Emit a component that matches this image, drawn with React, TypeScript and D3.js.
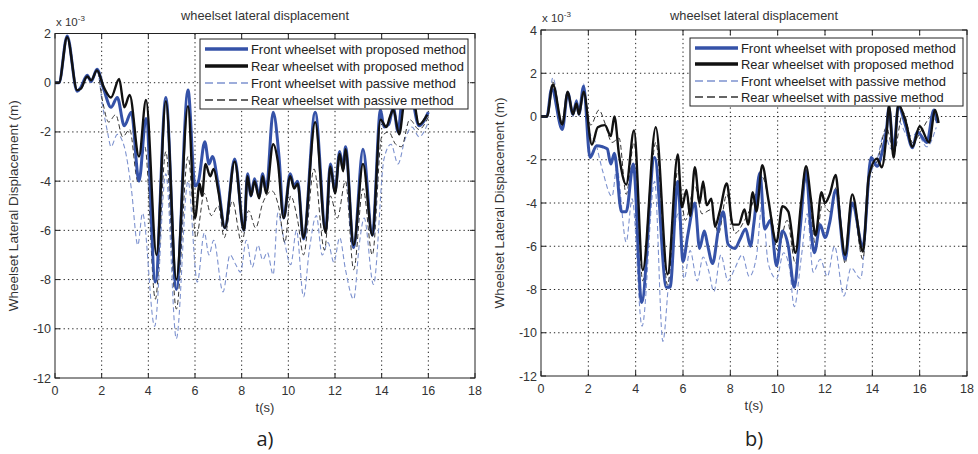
import React, { useEffect, useRef } from 'react';
import * as d3 from 'd3';

// ---- panel a) ----
const aFrontPropT = [0, 0.17, 0.52, 0.95, 1.1, 1.38, 1.55, 1.8, 2.1, 2.4, 2.67, 2.97, 3.27, 3.6, 3.9, 4.3, 4.75, 5.2, 5.7, 6.0, 6.15, 6.42, 6.6, 6.75, 7.0, 7.28, 7.7, 8.1, 8.25, 8.4, 8.55, 8.75, 8.9, 9.05, 9.35, 9.6, 9.8, 10.08, 10.25, 10.4, 10.65, 11.15, 11.6, 11.8, 12.0, 12.2, 12.35, 12.45, 12.8, 13.2, 13.6, 13.95, 14.1, 14.3, 14.5, 14.7, 14.9, 15.2, 15.6, 16.0];
const aFrontPropV = [0, 0, 1.9, -0.35, -0.2, 0.3, 0.05, 0.55, -0.3, -1.0, -0.6, -1.75, -1.2, -4.0, -1.45, -8.1, -0.6, -8.4, -0.3, -4.2, -4.0, -2.4, -3.3, -3.0, -4.2, -5.9, -3.1, -6.0, -3.7, -4.6, -3.9, -4.6, -3.7, -4.4, -1.2, -3.0, -5.5, -3.7, -4.2, -4.0, -6.35, -1.2, -6.0, -3.3, -4.4, -2.8, -3.5, -2.6, -6.7, -2.7, -6.2, -1.1, -1.8, -1.7, -1.0, -2.0, -0.5, -0.3, -1.75, -1.2];

const aRearPropT = [0, 0.17, 0.52, 0.95, 1.1, 1.38, 1.55, 1.8, 2.1, 2.4, 2.75, 2.97, 3.2, 3.6, 3.9, 4.35, 4.75, 5.2, 5.7, 6.0, 6.2, 6.3, 6.45, 6.65, 6.8, 7.0, 7.28, 7.7, 8.1, 8.25, 8.4, 8.55, 8.75, 8.9, 9.05, 9.35, 9.55, 9.8, 10.08, 10.25, 10.4, 10.65, 11.15, 11.6, 11.8, 12.0, 12.2, 12.35, 12.45, 12.8, 13.2, 13.6, 13.95, 14.2, 14.35, 14.5, 14.75, 15.0, 15.3, 15.6, 15.95];
const aRearPropV = [0, 0, 1.85, -0.3, -0.25, 0.25, 0.1, 0.5, -0.2, -0.6, 0.15, -1.0, -0.5, -3.0, -0.7, -7.0, -0.75, -8.0, -0.95, -5.5, -4.1, -4.6, -3.3, -3.8, -3.5, -4.4, -5.9, -3.2, -6.0, -3.8, -4.6, -4.0, -4.7, -3.8, -4.5, -2.5, -3.2, -5.5, -3.8, -4.3, -4.1, -6.3, -1.6, -6.1, -3.4, -4.5, -2.9, -3.6, -2.7, -6.6, -3.3, -6.2, -1.5, -1.8, -1.4, -1.1, -2.1, -0.6, -0.4, -1.7, -1.3];

const aFrontPassT = [0, 0.17, 0.52, 0.95, 1.1, 1.38, 1.55, 1.8, 2.05, 2.25, 2.4, 2.67, 2.97, 3.27, 3.55, 3.75, 4.27, 4.75, 5.2, 5.7, 6.1, 6.4, 6.6, 6.8, 7.2, 7.5, 7.75, 7.95, 8.2, 8.45, 8.7, 8.9, 9.1, 9.35, 9.55, 9.8, 10.1, 10.35, 10.65, 10.9, 11.2, 11.45, 11.7, 11.95, 12.2, 12.45, 12.8, 13.05, 13.25, 13.65, 14.1, 14.4, 14.7, 15.0, 15.3, 15.6, 16.0];
const aFrontPassV = [0, 0, 1.85, -0.35, -0.3, 0.2, 0.0, 0.5, -1.0, -2.0, -2.6, -2.1, -2.6, -4.3, -6.6, -5.3, -9.9, -3.7, -10.4, -4.0, -8.1, -6.1, -7.0, -6.4, -8.5, -7.0, -7.4, -7.7, -6.4, -7.5, -6.6, -7.2, -6.9, -7.8, -5.3, -6.3, -7.4, -6.0, -8.7, -6.8, -5.4, -7.0, -6.5, -7.3, -6.3, -7.6, -8.8, -6.5, -5.5, -8.2, -3.1, -2.5, -3.3, -2.3, -1.8, -2.2, -1.6];

const aRearPassT = [0, 0.17, 0.52, 0.95, 1.1, 1.38, 1.55, 1.8, 2.05, 2.3, 2.6, 2.9, 3.2, 3.55, 3.85, 4.3, 4.75, 5.2, 5.7, 6.05, 6.4, 6.7, 7.0, 7.25, 7.6, 8.0, 8.3, 8.6, 8.9, 9.3, 9.6, 9.85, 10.1, 10.4, 10.65, 11.1, 11.55, 11.8, 12.1, 12.45, 12.8, 13.2, 13.6, 14.0, 14.3, 14.6, 14.85, 15.2, 15.6, 16.0];
const aRearPassV = [0, 0, 1.85, -0.3, -0.25, 0.25, 0.05, 0.5, -0.8, -1.6, -1.3, -2.2, -1.9, -4.0, -2.6, -8.8, -2.8, -9.2, -3.0, -6.3, -4.5, -5.4, -5.0, -6.3, -4.8, -6.5, -5.2, -5.9, -4.9, -4.4, -5.1, -6.5, -4.6, -5.6, -7.0, -3.5, -6.8, -4.6, -5.5, -4.0, -7.6, -4.3, -7.0, -2.2, -2.0, -2.5, -2.6, -1.5, -1.9, -1.4];

// ---- panel b) ----
const bFrontPropT = [0, 0.25, 0.45, 0.9, 1.13, 1.35, 1.5, 1.6, 1.8, 2.07, 2.35, 2.6, 2.8, 2.95, 3.1, 3.4, 3.6, 3.9, 4.25, 4.8, 5.3, 5.45, 5.78, 6.0, 6.2, 6.5, 6.7, 6.9, 7.05, 7.25, 7.5, 7.7, 7.9, 8.2, 8.4, 8.65, 8.85, 9.0, 9.25, 9.45, 9.7, 9.95, 10.2, 10.45, 10.7, 10.95, 11.2, 11.4, 11.55, 11.8, 12.0, 12.2, 12.45, 12.85, 13.15, 13.6, 13.95, 14.2, 14.4, 14.6, 14.7, 14.9, 15.1, 15.4, 15.7, 15.9, 16.3, 16.6, 16.75];
const bFrontPropV = [0, 0, 1.3, -0.6, 1.1, 0.1, 0.7, 0.1, 1.4, -1.9, -1.35, -1.4, -1.5, -2.2, -1.7, -4.4, -4.4, -2.2, -8.6, -1.9, -7.9, -7.9, -3.0, -6.7, -5.5, -4.0, -6.1, -5.3, -6.0, -6.8, -5.2, -4.4, -5.9, -6.1, -5.7, -5.2, -6.0, -4.9, -2.6, -5.2, -4.8, -6.9, -5.3, -6.0, -7.9, -5.2, -2.5, -5.2, -6.3, -5.0, -5.6, -4.9, -3.4, -6.6, -4.0, -6.0, -1.9, -2.3, -1.7, -0.6, 0.4, -1.6, 0.5, -0.4, -1.45, -0.7, -1.2, 0.3, -0.3];

const bRearPropT = [0, 0.25, 0.5, 0.9, 1.13, 1.35, 1.5, 1.6, 1.8, 2.15, 2.4, 2.7, 2.95, 3.1, 3.3, 3.6, 3.93, 4.3, 4.85, 5.35, 5.78, 5.95, 6.15, 6.3, 6.5, 6.7, 6.85, 7.0, 7.2, 7.35, 7.55, 7.85, 8.1, 8.35, 8.6, 8.75, 8.95, 9.1, 9.35, 9.6, 9.95, 10.2, 10.45, 10.75, 11.0, 11.2, 11.4, 11.6, 11.85, 12.0, 12.2, 12.45, 12.65, 12.85, 13.15, 13.6, 13.85, 14.2, 14.4, 14.6, 14.7, 14.9, 15.1, 15.4, 15.7, 16.0, 16.4, 16.65, 16.8];
const bRearPropV = [0, 0, 1.48, -0.37, 1.15, 0.1, 0.6, 0.1, 1.15, -1.3, -0.5, -0.4, -0.9, 0, -1.8, -3.15, -0.65, -7.1, -0.5, -7.3, -1.75, -4.2, -3.4, -4.6, -2.35, -4.0, -3.0, -4.1, -3.8, -5.1, -4.4, -3.1, -5.0, -5.0, -4.3, -5.0, -3.5, -4.4, -2.25, -3.8, -5.8, -4.15, -4.4, -6.3, -3.9, -2.3, -3.8, -5.5, -3.5, -4.0, -3.6, -2.7, -4.9, -6.4, -3.6, -6.25, -2.8, -1.95, -2.35, -0.8, 0.55, -1.9, 0.55, -0.2, -1.4, -0.45, -1.2, 0.3, -0.3];

const bFrontPassT = [0, 0.25, 0.5, 0.9, 1.13, 1.35, 1.5, 1.6, 1.8, 2.0, 2.3, 2.6, 3.0, 3.2, 3.6, 3.85, 4.27, 4.8, 5.15, 5.4, 5.8, 6.05, 6.3, 6.6, 6.85, 7.1, 7.3, 7.6, 7.9, 8.2, 8.5, 8.8, 9.1, 9.35, 9.6, 9.95, 10.25, 10.5, 10.7, 11.0, 11.25, 11.5, 11.8, 12.1, 12.4, 12.8, 13.1, 13.5, 13.9, 14.2, 14.5, 14.8, 15.1, 15.5, 15.9, 16.3, 16.7];
const bFrontPassV = [0, 0, 1.8, -0.5, 1.2, 0.0, 0.8, 0.1, 1.5, -0.6, -1.2, -2.5, -3.7, -2.4, -5.8, -3.8, -9.7, -3.0, -10.4, -7.6, -4.5, -7.5, -6.2, -7.6, -6.5, -7.2, -8.1, -6.4, -7.6, -7.0, -6.4, -7.4, -6.5, -4.0, -6.8, -7.5, -6.3, -7.0, -8.8, -6.5, -4.5, -7.2, -6.6, -7.4, -6.0, -8.3, -7.0, -7.5, -2.8, -2.0, -0.8, -1.5, -0.2, -0.9, -0.8, -1.4, -0.5];

const bRearPassT = [0, 0.25, 0.5, 0.9, 1.13, 1.35, 1.5, 1.6, 1.8, 2.1, 2.45, 2.7, 3.0, 3.3, 3.6, 3.93, 4.3, 4.85, 5.35, 5.78, 6.1, 6.5, 6.8, 7.2, 7.5, 7.85, 8.2, 8.6, 8.95, 9.35, 9.7, 10.0, 10.4, 10.75, 11.2, 11.6, 11.9, 12.2, 12.5, 12.85, 13.15, 13.6, 13.9, 14.2, 14.6, 14.9, 15.3, 15.7, 16.1, 16.5, 16.8];
const bRearPassV = [0, 0, 1.6, -0.3, 1.1, 0.2, 0.6, 0.2, 1.2, -0.4, 0.3, -0.3, -1.2, -1.0, -3.6, -1.2, -7.6, -1.2, -7.8, -2.5, -4.8, -3.2, -4.5, -4.3, -5.4, -3.6, -5.4, -4.8, -4.0, -2.8, -4.4, -6.2, -4.8, -6.8, -2.9, -5.9, -4.0, -4.4, -3.2, -6.8, -4.0, -6.6, -2.5, -2.1, -0.5, -1.7, 0.2, -1.2, -0.6, 0.0, -0.4];

const legendLabels = [
  'Front wheelset with proposed method',
  'Rear wheelset with proposed method',
  'Front wheelset with passive method',
  'Rear wheelset with passive method',
];
const xTicks = [0, 2, 4, 6, 8, 10, 12, 14, 16, 18];
const aYTicks = [2, 0, -2, -4, -6, -8, -10, -12];
const bYTicks = [4, 2, 0, -2, -4, -6, -8, -10, -12];

const FONT = '"Liberation Sans", Arial, sans-serif';
const styles = [
  { color: '#3552a8', width: 3, dash: null },
  { color: '#111111', width: 2.4, dash: null },
  { color: '#7d92cf', width: 1.1, dash: '5,3' },
  { color: '#333333', width: 1, dash: '5,3' },
];

const zip = (t: number[], v: number[]) => t.map((d, i) => [d, v[i]] as [number, number]);

function drawPanel(svg: any, opt: any) {
  const { id, x0, x1, y0, y1, yDomain, yTicks, series, legend, label } = opt;
  const x = d3.scaleLinear().domain([0, 18]).range([x0, x1]);
  const y = d3.scaleLinear().domain(yDomain).range([y1, y0]);
  const g = svg.append('g');

  g.append('clipPath').attr('id', id).append('rect')
    .attr('x', x0).attr('y', y0).attr('width', x1 - x0).attr('height', y1 - y0);

  // Grid
  g.selectAll('.gx').data(xTicks.slice(1, -1)).enter().append('line')
    .attr('x1', (d: number) => x(d)).attr('x2', (d: number) => x(d))
    .attr('y1', y0).attr('y2', y1)
    .attr('stroke', '#222').attr('stroke-dasharray', '1.3,3').attr('stroke-width', 1);
  g.selectAll('.gy').data(yTicks.slice(1, -1)).enter().append('line')
    .attr('x1', x0).attr('x2', x1)
    .attr('y1', (d: number) => y(d)).attr('y2', (d: number) => y(d))
    .attr('stroke', '#222').attr('stroke-dasharray', '1.3,3').attr('stroke-width', 1);

  // Lines (dashed first, solid on top)
  const line = d3.line<[number, number]>()
    .x(d => x(d[0]))
    .y(d => y(d[1]))
    .curve(d3.curveMonotoneX);
  const order = [2, 3, 0, 1];
  order.forEach(i => {
    const s = styles[i];
    g.append('path')
      .datum(series[i])
      .attr('clip-path', `url(#${id})`)
      .attr('fill', 'none')
      .attr('stroke', s.color)
      .attr('stroke-width', s.width)
      .attr('stroke-linejoin', 'round')
      .attr('stroke-dasharray', s.dash)
      .attr('d', line);
  });

  // Box + inner ticks
  g.append('rect').attr('x', x0).attr('y', y0).attr('width', x1 - x0).attr('height', y1 - y0)
    .attr('fill', 'none').attr('stroke', '#222').attr('stroke-width', 1);
  xTicks.forEach(t => {
    g.append('line').attr('x1', x(t)).attr('x2', x(t)).attr('y1', y1).attr('y2', y1 - 5).attr('stroke', '#222');
    g.append('line').attr('x1', x(t)).attr('x2', x(t)).attr('y1', y0).attr('y2', y0 + 5).attr('stroke', '#222');
  });
  yTicks.forEach((t: number) => {
    g.append('line').attr('x1', x0).attr('x2', x0 + 5).attr('y1', y(t)).attr('y2', y(t)).attr('stroke', '#222');
    g.append('line').attr('x1', x1).attr('x2', x1 - 5).attr('y1', y(t)).attr('y2', y(t)).attr('stroke', '#222');
  });

  // Tick labels
  g.selectAll('.xl').data(xTicks).enter().append('text')
    .attr('x', (d: number) => x(d)).attr('y', y1 + 17)
    .attr('text-anchor', 'middle').attr('font-family', FONT).attr('font-size', 12.5).attr('fill', '#333')
    .text((d: number) => String(d));
  g.selectAll('.yl').data(yTicks).enter().append('text')
    .attr('x', x0 - 4).attr('y', (d: number) => y(d) + 4.5)
    .attr('text-anchor', 'end').attr('font-family', FONT).attr('font-size', 12.5).attr('fill', '#333')
    .text((d: number) => String(d));

  // Exponent
  const ex = g.append('text').attr('x', x0 + 1).attr('y', y0 - 8)
    .attr('font-family', FONT).attr('font-size', 11.5).attr('fill', '#333');
  ex.append('tspan').text('x 10');
  ex.append('tspan').attr('dy', -5).attr('font-size', 8).text('-3');

  // Title and axis labels
  const cx = (x0 + x1) / 2;
  g.append('text').attr('x', cx).attr('y', 20).attr('text-anchor', 'middle')
    .attr('font-family', FONT).attr('font-size', 12.8).attr('fill', '#333')
    .text('wheelset lateral displacement');
  g.append('text').attr('x', cx).attr('y', y1 + 34).attr('text-anchor', 'middle')
    .attr('font-family', FONT).attr('font-size', 13).attr('fill', '#333').text('t(s)');
  g.append('text')
    .attr('transform', `translate(${x0 - 37},${(y0 + y1) / 2}) rotate(-90)`)
    .attr('text-anchor', 'middle').attr('font-family', FONT).attr('font-size', 13.5).attr('fill', '#333')
    .text('Wheelset Lateral Displacement (m)');
  g.append('text').attr('x', cx).attr('y', 446).attr('text-anchor', 'middle')
    .attr('font-family', '"Open Sans", "Liberation Sans", sans-serif').attr('font-size', 20).attr('fill', '#222')
    .text(label);

  // Legend
  const { lx0, lx1, ly0, ly1, rows } = legend;
  g.append('rect').attr('x', lx0).attr('y', ly0).attr('width', lx1 - lx0).attr('height', ly1 - ly0)
    .attr('fill', '#fff').attr('stroke', '#222').attr('stroke-width', 1);
  legendLabels.forEach((txt, i) => {
    const s = styles[i];
    g.append('line').attr('x1', lx0 + 5).attr('x2', lx0 + 48).attr('y1', rows[i]).attr('y2', rows[i])
      .attr('stroke', s.color).attr('stroke-width', s.dash ? 1.3 : 3.5)
      .attr('stroke-dasharray', s.dash ? '8,4' : null);
    g.append('text').attr('x', lx0 + 51).attr('y', rows[i] + 4.5)
      .attr('font-family', FONT).attr('font-size', 12.9).attr('fill', '#222').text(txt);
  });
}

export default function App() {
  const svgRef = useRef<SVGSVGElement>(null);

  useEffect(() => {
    if (!svgRef.current) return;
    const svg = d3.select(svgRef.current);
    svg.selectAll('*').remove();

    drawPanel(svg, {
      id: 'clipA', x0: 55, x1: 475, y0: 33.5, y1: 378, yDomain: [-12, 2], yTicks: aYTicks,
      series: [zip(aFrontPropT, aFrontPropV), zip(aRearPropT, aRearPropV), zip(aFrontPassT, aFrontPassV), zip(aRearPassT, aRearPassV)],
      legend: { lx0: 200, lx1: 468, ly0: 39, ly1: 109, rows: [49, 66, 83, 100] },
      label: 'a)',
    });
    drawPanel(svg, {
      id: 'clipB', x0: 541, x1: 967, y0: 30, y1: 376, yDomain: [-12, 4], yTicks: bYTicks,
      series: [zip(bFrontPropT, bFrontPropV), zip(bRearPropT, bRearPropV), zip(bFrontPassT, bFrontPassV), zip(bRearPassT, bRearPassV)],
      legend: { lx0: 690, lx1: 963, ly0: 38, ly1: 106, rows: [48, 64, 81, 97] },
      label: 'b)',
    });
  }, []);

  return (
    <svg ref={svgRef} width={978} height={454}
      style={{ position: 'absolute', left: 0, top: 0, background: '#fff', display: 'block' }} />
  );
}
